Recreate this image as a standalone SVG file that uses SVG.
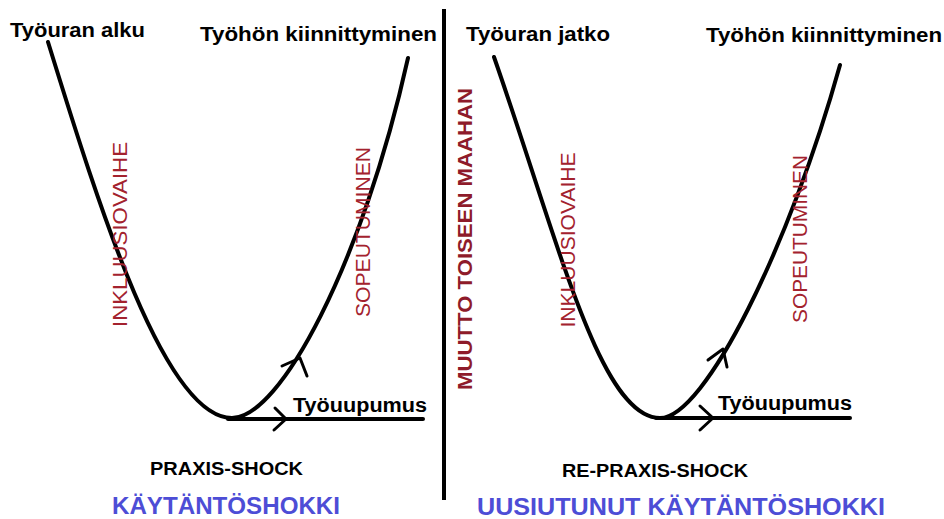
<svg xmlns="http://www.w3.org/2000/svg" width="944" height="519" viewBox="0 0 944 519">
<style>
.t{font-family:"Liberation Sans",Arial,sans-serif;font-weight:bold;fill:#000}
.r{font-family:"Liberation Sans",Arial,sans-serif;fill:#a3222e;font-size:21px}
.rb{font-family:"Liberation Sans",Arial,sans-serif;font-weight:bold;fill:#8e1b2a;font-size:21px}
.b{font-family:"Liberation Sans",Arial,sans-serif;font-weight:bold;fill:#4d4dd6;font-size:24px}
.c{fill:none;stroke:#000;stroke-width:4;stroke-linecap:round;stroke-linejoin:round}
.a{fill:none;stroke:#000;stroke-width:3;stroke-linecap:round;stroke-linejoin:round}
</style>
<rect width="944" height="519" fill="#fff"/>
<g id="connectors">
<path class="c" d="M48,42 C100,210 165,418 232,418"/>
<path class="c" d="M232,418 C280,418 362,265 408,58"/>
<line class="c" x1="228" y1="419" x2="423" y2="419"/>
<polyline class="a" points="275,408 286,419 274,430"/>
<polyline class="a" points="282,366 300,358 307,376"/>
<path class="c" d="M494,57 C558,240 600,418 660,418"/>
<path class="c" d="M660,418 C705,418 790,245 840,65"/>
<line class="c" x1="656" y1="418" x2="850" y2="418"/>
<polyline class="a" points="700,406 713,418 700,430"/>
<polyline class="a" points="708,360 723,349 727,367"/>
<line x1="444" y1="9" x2="444" y2="500" stroke="#000" stroke-width="4"/>
</g>
<g id="tyouran-alku"><text class="t" x="10" y="37" font-size="20" textLength="135" lengthAdjust="spacingAndGlyphs">Työuran alku</text></g>
<g id="tyohon-1"><text class="t" x="200" y="41" font-size="20" textLength="237" lengthAdjust="spacingAndGlyphs">Työhön kiinnittyminen</text></g>
<g id="tyouran-jatko"><text class="t" x="466" y="41" font-size="20" textLength="144" lengthAdjust="spacingAndGlyphs">Työuran jatko</text></g>
<g id="tyohon-2"><text class="t" x="706" y="42" font-size="20" textLength="236" lengthAdjust="spacingAndGlyphs">Työhön kiinnittyminen</text></g>
<g id="inkluusio-1"><text class="r" transform="translate(127,234.5) rotate(-90)" text-anchor="middle" textLength="185" lengthAdjust="spacingAndGlyphs">INKLUUSIOVAIHE</text></g>
<g id="sopeutuminen-1"><text class="r" transform="translate(370,232) rotate(-90)" text-anchor="middle" textLength="170" lengthAdjust="spacingAndGlyphs">SOPEUTUMINEN</text></g>
<g id="inkluusio-2"><text class="r" transform="translate(575,240) rotate(-90)" text-anchor="middle" textLength="175" lengthAdjust="spacingAndGlyphs">INKLUUSIOVAIHE</text></g>
<g id="sopeutuminen-2"><text class="r" transform="translate(807,239) rotate(-90)" text-anchor="middle" textLength="168" lengthAdjust="spacingAndGlyphs">SOPEUTUMINEN</text></g>
<g id="muutto"><text class="rb" transform="translate(472,239) rotate(-90)" text-anchor="middle" textLength="302" lengthAdjust="spacingAndGlyphs">MUUTTO TOISEEN MAAHAN</text></g>
<g id="tyouupumus-1"><text class="t" x="293" y="412" font-size="20" textLength="134" lengthAdjust="spacingAndGlyphs">Työuupumus</text></g>
<g id="tyouupumus-2"><text class="t" x="718" y="410" font-size="20" textLength="134" lengthAdjust="spacingAndGlyphs">Työuupumus</text></g>
<g id="praxis-shock"><text class="t" x="150" y="475" font-size="18" textLength="153" lengthAdjust="spacingAndGlyphs">PRAXIS-SHOCK</text></g>
<g id="re-praxis-shock"><text class="t" x="562" y="477" font-size="18" textLength="186" lengthAdjust="spacingAndGlyphs">RE-PRAXIS-SHOCK</text></g>
<g id="kaytantoshokki"><text class="b" x="112" y="514" textLength="228" lengthAdjust="spacingAndGlyphs">KÄYTÄNTÖSHOKKI</text></g>
<g id="uusiutunut"><text class="b" x="477" y="515" textLength="408" lengthAdjust="spacingAndGlyphs">UUSIUTUNUT KÄYTÄNTÖSHOKKI</text></g>
</svg>
